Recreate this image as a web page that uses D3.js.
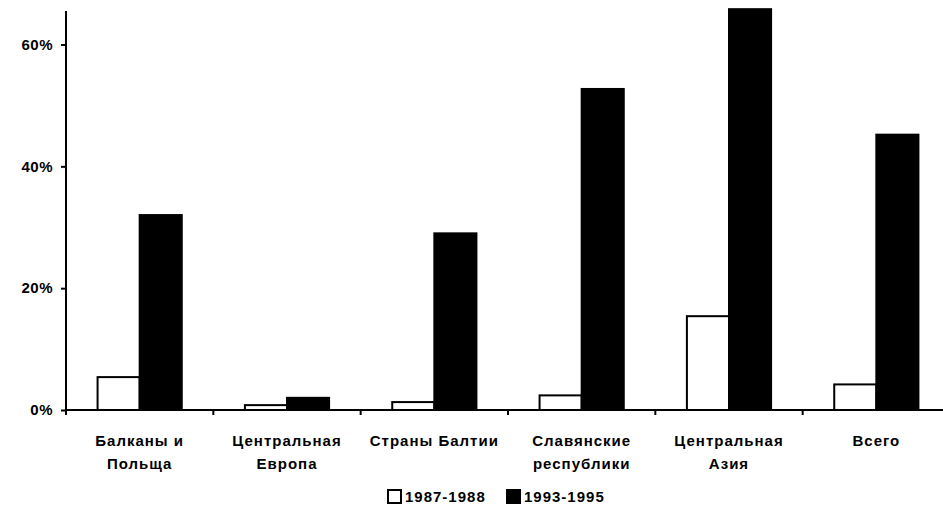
<!DOCTYPE html>
<html>
<head>
<meta charset="utf-8">
<style>
  body { margin: 0; background: #fff; }
  text { font-family: "Liberation Sans", Arial, sans-serif; font-weight: bold; fill: #000; }
</style>
</head>
<body>
<script src="https://cdn.jsdelivr.net/npm/d3@7"></script>
<script>
var width = 943, height = 513;

var regions = [["Балканы и", "Польща"], ["Центральная", "Европа"], ["Страны Балтии"],
               ["Славянские", "республики"], ["Центральная", "Азия"], ["Всего"]];
var seriesNames = ["1987-1988", "1993-1995"];
var values8788 = [5.4, 0.8, 1.3, 2.4, 15.4, 4.2];
var values9395 = [32, 2, 29, 52.7, 65.8, 45.2];
var yTicks = [0, 20, 40, 60];

var svg = d3.select("body").append("svg")
    .attr("width", width).attr("height", height);

var mLeft = 66, mBottom = 410, mTop = 11, mRight = 950;

var x = d3.scaleBand().domain(d3.range(regions.length)).range([mLeft, mRight]);
var xSub = d3.scaleBand().domain(seriesNames).range([0, x.bandwidth()])
    .paddingInner(0).paddingOuter(0.75);
var y = d3.scaleLinear().domain([0, 65.5]).range([mBottom, mTop]);

var data = regions.map(function (r, i) {
    return { i: i, vals: [values8788[i], values9395[i]] };
});

var groups = svg.selectAll("g.grp").data(data).enter().append("g")
    .attr("class", "grp")
    .attr("transform", function (d) { return "translate(" + x(d.i) + ",0)"; });

groups.selectAll("rect").data(function (d) {
        return d.vals.map(function (v, k) { return { s: seriesNames[k], v: v }; });
    }).enter().append("rect")
    .attr("x", function (d) { return xSub(d.s); })
    .attr("y", function (d) { return y(d.v); })
    .attr("width", xSub.bandwidth())
    .attr("height", function (d) { return mBottom - y(d.v); })
    .attr("fill", function (d) { return d.s === seriesNames[0] ? "#fff" : "#000"; })
    .attr("stroke", "#000")
    .attr("stroke-width", 2);

// y axis
var yAxis = d3.axisLeft(y).tickValues(yTicks).tickSize(5).tickPadding(8)
    .tickFormat(function (d) { return d + "%"; });
var gy = svg.append("g").attr("transform", "translate(" + mLeft + ",0)").call(yAxis);
gy.select(".domain").remove();
gy.append("line").attr("x1", 0).attr("x2", 0).attr("y1", mTop).attr("y2", mBottom)
    .attr("stroke", "#000").attr("stroke-width", 2);
gy.selectAll(".tick line").attr("stroke-width", 2);
gy.selectAll("text").attr("fill", "#000").style("font-size", "15px")
    .style("font-family", "Liberation Sans, Arial, sans-serif")
    .style("font-weight", "bold").style("letter-spacing", "0.5px");

// x axis line with ticks at band boundaries
svg.append("line").attr("x1", mLeft).attr("x2", mRight).attr("y1", mBottom).attr("y2", mBottom)
    .attr("stroke", "#000").attr("stroke-width", 2);
svg.selectAll("line.xt").data(d3.range(regions.length + 1)).enter().append("line")
    .attr("class", "xt")
    .attr("x1", function (d) { return mLeft + d * x.step(); })
    .attr("x2", function (d) { return mLeft + d * x.step(); })
    .attr("y1", mBottom).attr("y2", mBottom + 5)
    .attr("stroke", "#000").attr("stroke-width", 2);

// category labels
var labels = svg.selectAll("text.cat").data(data).enter().append("text")
    .attr("class", "cat")
    .attr("text-anchor", "middle")
    .style("font-size", "15px")
    .style("letter-spacing", "1px")
    .attr("x", function (d) { return x(d.i) + x.bandwidth() / 2; })
    .attr("y", 446);
labels.selectAll("tspan").data(function (d) { return regions[d.i]; }).enter().append("tspan")
    .attr("x", function () { return d3.select(this.parentNode).attr("x"); })
    .attr("dy", function (d, k) { return k === 0 ? 0 : 23; })
    .text(function (d) { return d; });

// legend
var legend = svg.append("g").attr("transform", "translate(388,502)");
var lx = [0, 119];
seriesNames.forEach(function (s, k) {
    legend.append("rect").attr("x", lx[k]).attr("y", -12).attr("width", 13).attr("height", 13)
        .attr("fill", k === 0 ? "#fff" : "#000").attr("stroke", "#000").attr("stroke-width", 2);
    legend.append("text").attr("x", lx[k] + 17).attr("y", 0)
        .style("font-size", "15px").style("letter-spacing", "1px").text(s);
});
</script>
</body>
</html>
